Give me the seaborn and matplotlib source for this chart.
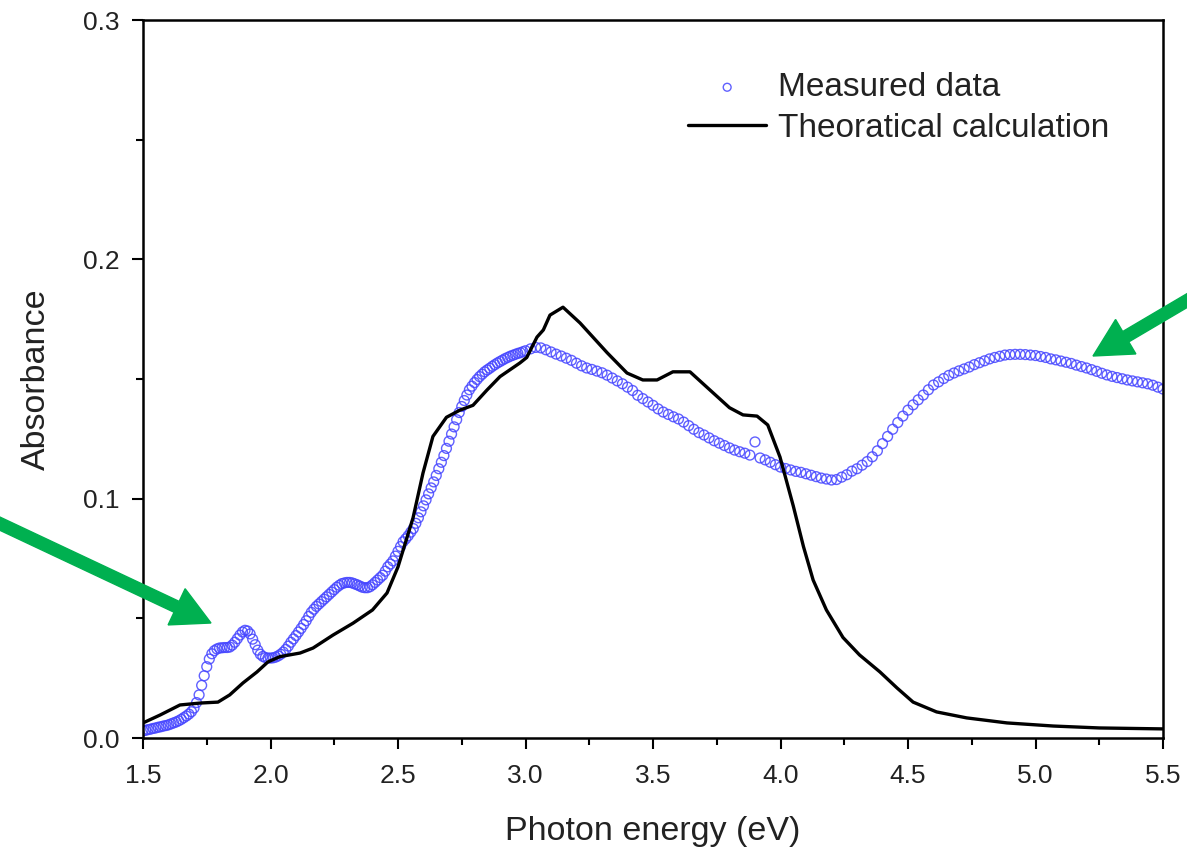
import numpy as np
import pandas as pd
import matplotlib
matplotlib.use("Agg")
import matplotlib.pyplot as plt
import seaborn as sns
from matplotlib.patches import FancyArrow
from matplotlib.transforms import IdentityTransform
from matplotlib.ticker import MultipleLocator, FormatStrFormatter

# ---- measured data (photon energy in eV, absorbance) ----
meas_energy = [
    1.50, 1.51, 1.52, 1.53, 1.54, 1.55, 1.56, 1.57, 1.58, 1.59,
    1.60, 1.61, 1.62, 1.63, 1.64, 1.65, 1.66, 1.67, 1.68, 1.69,
    1.70, 1.71, 1.72, 1.73, 1.74, 1.75, 1.76, 1.77, 1.78, 1.79,
    1.80, 1.81, 1.82, 1.83, 1.84, 1.85, 1.86, 1.87, 1.88, 1.89,
    1.90, 1.91, 1.92, 1.93, 1.94, 1.95, 1.96, 1.97, 1.98, 1.99,
    2.00, 2.01, 2.02, 2.03, 2.04, 2.05, 2.06, 2.07, 2.08, 2.09,
    2.10, 2.11, 2.12, 2.13, 2.14, 2.15, 2.16, 2.17, 2.18, 2.19,
    2.20, 2.21, 2.22, 2.23, 2.24, 2.25, 2.26, 2.27, 2.28, 2.29,
    2.30, 2.31, 2.32, 2.33, 2.34, 2.35, 2.36, 2.37, 2.38, 2.39,
    2.40, 2.41, 2.42, 2.43, 2.44, 2.45, 2.46, 2.47, 2.48, 2.49,
    2.50, 2.51, 2.52, 2.53, 2.54, 2.55, 2.56, 2.57, 2.58, 2.59,
    2.60, 2.61, 2.62, 2.63, 2.64, 2.65, 2.66, 2.67, 2.68, 2.69,
    2.70, 2.71, 2.72, 2.73, 2.74, 2.75, 2.76, 2.77, 2.78, 2.79,
    2.80, 2.81, 2.82, 2.83, 2.84, 2.85, 2.86, 2.87, 2.88, 2.89,
    2.90, 2.91, 2.92, 2.93, 2.94, 2.95, 2.96, 2.97, 2.98, 2.99,
    3.00, 3.02, 3.04, 3.06, 3.08,
    3.10, 3.12, 3.14, 3.16, 3.18, 3.20, 3.22, 3.24, 3.26, 3.28,
    3.30, 3.32, 3.34, 3.36, 3.38, 3.40, 3.42, 3.44, 3.46, 3.48,
    3.50, 3.52, 3.54, 3.56, 3.58, 3.60, 3.62, 3.64, 3.66, 3.68,
    3.70, 3.72, 3.74, 3.76, 3.78, 3.80, 3.82, 3.84, 3.86, 3.88,
    3.90, 3.92, 3.94, 3.96, 3.98, 4.00, 4.02, 4.04, 4.06, 4.08,
    4.10, 4.12, 4.14, 4.16, 4.18, 4.20, 4.22, 4.24, 4.26, 4.28,
    4.30, 4.32, 4.34, 4.36, 4.38, 4.40, 4.42, 4.44, 4.46, 4.48,
    4.50, 4.52, 4.54, 4.56, 4.58, 4.60, 4.62, 4.64, 4.66, 4.68,
    4.70, 4.72, 4.74, 4.76, 4.78, 4.80, 4.82, 4.84, 4.86, 4.88,
    4.90, 4.92, 4.94, 4.96, 4.98, 5.00, 5.02, 5.04, 5.06, 5.08,
    5.10, 5.12, 5.14, 5.16, 5.18, 5.20, 5.22, 5.24, 5.26, 5.28,
    5.30, 5.32, 5.34, 5.36, 5.38, 5.40, 5.42, 5.44, 5.46, 5.48,
    5.50,
]
meas_absorbance = [
    0.0030, 0.0032, 0.0035, 0.0037, 0.0040, 0.0042, 0.0045, 0.0047, 0.0050, 0.0052,
    0.0055, 0.0059, 0.0063, 0.0067, 0.0072, 0.0078, 0.0085, 0.0092, 0.0100, 0.0110,
    0.0125, 0.0148, 0.0180, 0.0220, 0.0260, 0.0298, 0.0330, 0.0352, 0.0365, 0.0372,
    0.0376, 0.0377, 0.0378, 0.0378, 0.0380, 0.0388, 0.0400, 0.0415, 0.0430, 0.0443,
    0.0450, 0.0447, 0.0435, 0.0413, 0.0390, 0.0367, 0.0350, 0.0341, 0.0336, 0.0334,
    0.0334, 0.0335, 0.0338, 0.0343, 0.0350, 0.0359, 0.0370, 0.0384, 0.0400, 0.0414,
    0.0428, 0.0443, 0.0458, 0.0474, 0.0490, 0.0508, 0.0525, 0.0538, 0.0550, 0.0560,
    0.0570, 0.0580, 0.0590, 0.0600, 0.0610, 0.0620, 0.0630, 0.0638, 0.0645, 0.0648,
    0.0650, 0.0650, 0.0648, 0.0644, 0.0640, 0.0635, 0.0630, 0.0628, 0.0628, 0.0632,
    0.0640, 0.0650, 0.0660, 0.0670, 0.0680, 0.0697, 0.0715, 0.0727, 0.0740, 0.0760,
    0.0780, 0.0800, 0.0820, 0.0832, 0.0845, 0.0860, 0.0875, 0.0897, 0.0920, 0.0945,
    0.0970, 0.0995, 0.1020, 0.1045, 0.1070, 0.1097, 0.1125, 0.1152, 0.1180, 0.1210,
    0.1240, 0.1270, 0.1300, 0.1330, 0.1360, 0.1385, 0.1410, 0.1433, 0.1455, 0.1470,
    0.1485, 0.1498, 0.1510, 0.1520, 0.1530, 0.1538, 0.1545, 0.1553, 0.1560, 0.1567,
    0.1573, 0.1579, 0.1585, 0.1590, 0.1595, 0.1599, 0.1603, 0.1607, 0.1610, 0.1614,
    0.1618, 0.1626, 0.1632, 0.1630, 0.1622,
    0.1613, 0.1604, 0.1596, 0.1587, 0.1578, 0.1566, 0.1555, 0.1546, 0.1540, 0.1533,
    0.1526, 0.1516, 0.1504, 0.1492, 0.1480, 0.1466, 0.1452, 0.1432, 0.1418, 0.1404,
    0.1390, 0.1375, 0.1362, 0.1352, 0.1342, 0.1333, 0.1320, 0.1305, 0.1290, 0.1276,
    0.1266, 0.1254, 0.1242, 0.1232, 0.1222, 0.1212, 0.1203, 0.1196, 0.1190, 0.1182,
    0.1237, 0.1170, 0.1162, 0.1152, 0.1142, 0.1132, 0.1126, 0.1120, 0.1114, 0.1110,
    0.1104, 0.1098, 0.1092, 0.1086, 0.1082, 0.1078, 0.1080, 0.1090, 0.1100, 0.1115,
    0.1125, 0.1140, 0.1155, 0.1175, 0.1200, 0.1230, 0.1260, 0.1290, 0.1318, 0.1345,
    0.1370, 0.1392, 0.1413, 0.1433, 0.1455, 0.1475, 0.1488, 0.1502, 0.1515, 0.1525,
    0.1534, 0.1542, 0.1550, 0.1560, 0.1568, 0.1576, 0.1584, 0.1590, 0.1595, 0.1600,
    0.1602, 0.1603, 0.1603, 0.1602, 0.1600, 0.1598, 0.1594, 0.1590, 0.1584, 0.1580,
    0.1575, 0.1570, 0.1565, 0.1558, 0.1552, 0.1546, 0.1539, 0.1532, 0.1524, 0.1517,
    0.1511, 0.1506, 0.1501, 0.1496, 0.1492, 0.1488, 0.1484, 0.1480, 0.1474, 0.1466,
    0.1458,
]

# ---- theoretical calculation ----
theo_energy = [
    1.50, 1.567, 1.645, 1.724, 1.794, 1.84, 1.892, 1.947, 1.99, 2.037,
    2.116, 2.167, 2.245, 2.324, 2.40, 2.457, 2.50, 2.559, 2.598, 2.637,
    2.69, 2.743, 2.794, 2.849, 2.90, 2.978, 3.005, 3.045, 3.07, 3.096,
    3.147, 3.214, 3.32, 3.398, 3.46, 3.516, 3.578, 3.645, 3.71, 3.80,
    3.853, 3.908, 3.95, 3.998, 4.05, 4.09, 4.128, 4.18, 4.245, 4.31,
    4.39, 4.457, 4.52, 4.612, 4.73, 4.888, 5.07, 5.25, 5.50,
]
theo_absorbance = [
    0.0063, 0.0096, 0.0138, 0.0146, 0.0150, 0.0180, 0.0230, 0.0276, 0.0318, 0.0340,
    0.0355, 0.0376, 0.0430, 0.0480, 0.0535, 0.0606, 0.0715, 0.0920, 0.1107, 0.1260,
    0.1340, 0.1370, 0.1390, 0.1454, 0.1510, 0.1567, 0.1590, 0.1675, 0.1705, 0.1767,
    0.1800, 0.1734, 0.1610, 0.1525, 0.1496, 0.1496, 0.1530, 0.1530, 0.1467, 0.1380,
    0.1350, 0.1345, 0.1308, 0.1174, 0.0970, 0.0800, 0.0660, 0.0535, 0.0420, 0.0347,
    0.0276, 0.0209, 0.0150, 0.0109, 0.0084, 0.0063, 0.0050, 0.0042, 0.0038,
]

x_ticks = [1.5, 2.0, 2.5, 3.0, 3.5, 4.0, 4.5, 5.0, 5.5]
y_ticks = [0.0, 0.1, 0.2, 0.3]

meas_df = pd.DataFrame({"energy": meas_energy, "absorbance": meas_absorbance})
theo_df = pd.DataFrame({"energy": theo_energy, "absorbance": theo_absorbance})

sns.set_style("ticks")
plt.rcParams["font.family"] = ["Liberation Sans", "DejaVu Sans"]

W, H = 1187, 848
fig = plt.figure(figsize=(W / 100, H / 100), dpi=100)
ax = fig.add_axes([143 / W, 1 - 738 / H, (1163 - 143) / W, (738 - 20) / H])

sns.scatterplot(data=meas_df, x="energy", y="absorbance", ax=ax,
                marker="o", s=50, facecolor="none", edgecolor="#4545ff",
                linewidth=1.0, alpha=0.85, label="Measured data", zorder=2)
sns.lineplot(data=theo_df, x="energy", y="absorbance", ax=ax, color="black",
             linewidth=2.4, estimator=None, sort=False,
             label="Theoratical calculation", zorder=3)

ax.set_xlim(1.5, 5.5)
ax.set_ylim(0.0, 0.3)
ax.set_xticks(x_ticks)
ax.set_yticks(y_ticks)
ax.xaxis.set_minor_locator(MultipleLocator(0.25))
ax.yaxis.set_minor_locator(MultipleLocator(0.05))
ax.xaxis.set_major_formatter(FormatStrFormatter("%.1f"))
ax.yaxis.set_major_formatter(FormatStrFormatter("%.1f"))
ax.tick_params(axis="both", which="major", direction="out", length=8, width=1.5,
               labelsize=19, color="black", labelcolor="#222222")
ax.tick_params(axis="x", which="major", pad=11)
ax.tick_params(axis="y", which="major", pad=9)
ax.tick_params(axis="both", which="minor", direction="out", length=5, width=1.5,
               color="black")
ax.tick_params(axis="x", which="both", top=False)
ax.tick_params(axis="y", which="both", right=False)
for sp in ax.spines.values():
    sp.set_visible(True)
    sp.set_linewidth(1.8)
    sp.set_color("black")

ax.set_xlabel("Photon energy (eV)", fontsize=24.5, labelpad=20, color="#222222")
ax.set_ylabel("Absorbance", fontsize=24.5, labelpad=22, color="#222222")

leg = ax.legend(loc="upper left", bbox_to_anchor=(688 / W, 1 - 72 / H),
                bbox_transform=fig.transFigure, frameon=False, fontsize=24,
                handlelength=2.35, handletextpad=0.35, labelspacing=0.3,
                borderpad=0, borderaxespad=0, markerscale=0.8)
for t in leg.get_texts():
    t.set_color("#222222")

# green arrows (figure pixel coordinates)
green = "#00b050"
def add_arrow(tail, tip):
    x0, y0 = tail[0], H - tail[1]
    x1, y1 = tip[0], H - tip[1]
    arr = FancyArrow(x0, y0, x1 - x0, y1 - y0, width=12, head_width=40,
                     head_length=38, length_includes_head=True,
                     color=green, transform=IdentityTransform(), zorder=10)
    fig.add_artist(arr)

add_arrow((-10, 519), (211, 623))
add_arrow((1205, 290), (1093, 356))

fig.savefig("out.png", dpi=100)
